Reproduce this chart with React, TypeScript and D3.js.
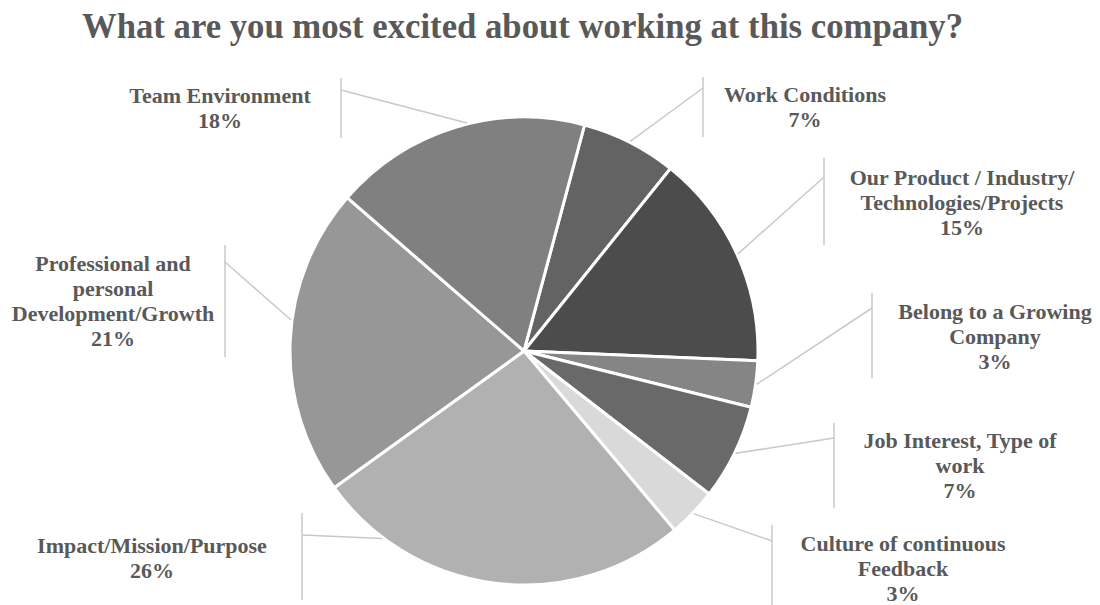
import React from "react";
import * as d3 from "d3";

const categories = [
  "Work Conditions",
  "Our Product / Industry/ Technologies/Projects",
  "Belong to a Growing Company",
  "Job Interest, Type of work",
  "Culture of continuous Feedback",
  "Impact/Mission/Purpose",
  "Professional and personal Development/Growth",
  "Team Environment",
];
const values = [6.6, 14.9, 3.2, 6.6, 3.4, 26.2, 21.3, 17.8];
const colors = ["#636363", "#4c4c4c", "#858585", "#696969", "#d9d9d9", "#b1b1b1", "#979797", "#808080"];

// label layout: wrapped lines, centre x, first baseline y, bar x, bar y range, leader start y, anchor shift (deg)
const labelLines = [
  ["Work Conditions"],
  ["Our Product / Industry/", "Technologies/Projects"],
  ["Belong to a Growing", "Company"],
  ["Job Interest, Type of", "work"],
  ["Culture of continuous", "Feedback"],
  ["Impact/Mission/Purpose"],
  ["Professional and", "personal", "Development/Growth"],
  ["Team Environment"],
];
const labelLayout = [
  { cx: 805, y: 102, bx: 703, by0: 77, by1: 137, ly: 88, shift: 0 },
  { cx: 962, y: 185, bx: 824, by0: 158, by1: 245, ly: 177, shift: 0 },
  { cx: 995, y: 319, bx: 872, by0: 293, by1: 378, ly: 308, shift: 0 },
  { cx: 960, y: 448, bx: 834, by0: 423, by1: 508, ly: 438, shift: 0 },
  { cx: 903, y: 551, bx: 772, by0: 525, by1: 610, ly: 541, shift: 0 },
  { cx: 152, y: 553, bx: 302, by0: 513, by1: 600, ly: 535, shift: 30 },
  { cx: 113, y: 271, bx: 225, by0: 245, by1: 357, ly: 262, shift: 5 },
  { cx: 220, y: 103, bx: 341, by0: 78, by1: 138, ly: 90, shift: 3 },
];

const W = 1100;
const H = 605;
const cx = 524;
const cy = 351;
const R = 234;
const startDeg = 15;

export default function App() {
  const pie = d3
    .pie<number>()
    .sort(null)
    .value((d) => d)
    .startAngle((startDeg * Math.PI) / 180)
    .endAngle((startDeg * Math.PI) / 180 + 2 * Math.PI);
  const arcs = pie(values);
  const arcGen = d3.arc<d3.PieArcDatum<number>>().innerRadius(0).outerRadius(R);
  const total = d3.sum(values);
  const fmt = (v: number) => `${Math.round((v / total) * 100)}%`;
  const font = "'Liberation Serif', 'Times New Roman', serif";
  const txt = "#595959";
  const lineColor = "#c9c9c9";

  return (
    <svg width={W} height={H} style={{ position: "absolute", left: 0, top: 0, background: "#fff" }}>
      <rect width={W} height={H} fill="#fff" />
      <text
        x={522.5}
        y={38}
        textAnchor="middle"
        fontFamily={font}
        fontWeight="bold"
        fontSize={35}
        fill={txt}
        textLength={881}
        lengthAdjust="spacingAndGlyphs"
      >
        What are you most excited about working at this company?
      </text>
      <g transform={`translate(${cx},${cy})`}>
        {arcs.map((a, i) => (
          <path key={i} d={arcGen(a) || ""} fill={colors[i]} stroke="#fff" strokeWidth={3} strokeLinejoin="round" />
        ))}
      </g>
      {arcs.map((a, i) => {
        const L = labelLayout[i];
        const ang = (a.startAngle + a.endAngle) / 2 + (L.shift * Math.PI) / 180;
        const ex = cx + (R + 1) * Math.sin(ang);
        const ey = cy - (R + 1) * Math.cos(ang);
        const lines = [...labelLines[i], fmt(values[i])];
        return (
          <g key={"l" + i}>
            <line x1={L.bx} y1={L.by0} x2={L.bx} y2={L.by1} stroke={lineColor} strokeWidth={1.5} />
            <line x1={L.bx} y1={L.ly} x2={ex} y2={ey} stroke={lineColor} strokeWidth={1.5} />
            <text textAnchor="middle" fontFamily={font} fontWeight="bold" fontSize={22} fill={txt}>
              {lines.map((s, j) => (
                <tspan key={j} x={L.cx} y={L.y + j * 25}>
                  {s}
                </tspan>
              ))}
            </text>
          </g>
        );
      })}
    </svg>
  );
}
